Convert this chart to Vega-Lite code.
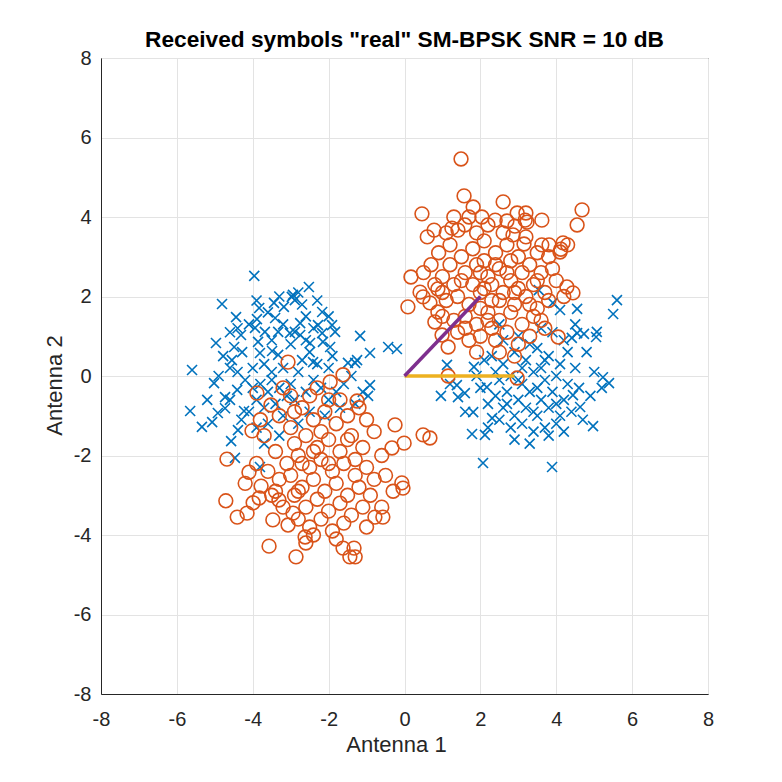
{
  "$schema": "https://vega.github.io/schema/vega-lite/v6.json",
  "autosize": {"type": "none"},
  "padding": {"left": 101, "top": 58, "right": 74, "bottom": 88},
  "width": 607,
  "height": 636,
  "background": "white",
  "view": {"stroke": "#262626", "strokeWidth": 1},
  "title": {
    "text": "Received symbols \"real\" SM-BPSK SNR = 10 dB",
    "font": "Liberation Sans",
    "fontSize": 22.7,
    "fontWeight": "bold",
    "color": "#000000",
    "anchor": "middle",
    "baseline": "alphabetic",
    "offset": -22
  },
  "config": {
    "font": "Liberation Sans",
    "axis": {
      "grid": true,
      "gridColor": "#e3e3e3",
      "gridWidth": 1,
      "domainColor": "#262626",
      "ticks": false,
      "labelFlush": false,
      "labelFont": "Liberation Sans",
      "labelFontSize": 20,
      "labelColor": "#262626",
      "labelExpr": "'' + datum.value",
      "titleFont": "Liberation Sans",
      "titleFontSize": 22,
      "titleFontWeight": "normal",
      "titleColor": "#262626"
    }
  },
  "datasets": {
    "blue": [
      {"x": -3.96, "y": 2.52}, {"x": -4.81, "y": 1.81}, {"x": -4.44, "y": 1.48}, {"x": -3.83, "y": 1.71},
      {"x": -3.44, "y": 1.84}, {"x": -3.18, "y": 1.74}, {"x": -2.97, "y": 1.99}, {"x": -3.89, "y": 1.43},
      {"x": -3.41, "y": 1.46}, {"x": -3.94, "y": 1.21}, {"x": -3.68, "y": 1.11}, {"x": -4.31, "y": 1.03},
      {"x": -3.33, "y": 1.11}, {"x": -3.02, "y": 1.08}, {"x": -4.97, "y": 0.83}, {"x": -4.49, "y": 0.73},
      {"x": -4.28, "y": 0.6}, {"x": -3.86, "y": 0.86}, {"x": -4.78, "y": 0.5}, {"x": -4.55, "y": 0.4},
      {"x": -3.81, "y": 0.58}, {"x": -3.49, "y": 0.63}, {"x": -3.33, "y": 0.53}, {"x": -2.52, "y": 2.24},
      {"x": -2.94, "y": 2.04}, {"x": -2.89, "y": 1.91}, {"x": -2.17, "y": 1.61}, {"x": -2.75, "y": 1.33},
      {"x": -2.89, "y": 1.11}, {"x": -2.75, "y": 1.03}, {"x": -2.28, "y": 1.28}, {"x": -1.91, "y": 1.28},
      {"x": -1.83, "y": 1.11}, {"x": -2.17, "y": 1.08}, {"x": -2.49, "y": 0.83}, {"x": -2.15, "y": 0.86},
      {"x": -1.96, "y": 0.73}, {"x": -1.17, "y": 1.01}, {"x": -0.91, "y": 0.58}, {"x": -0.43, "y": 0.73},
      {"x": -0.2, "y": 0.68}, {"x": -1.25, "y": 0.4}, {"x": -1.49, "y": 0.33}, {"x": -2.41, "y": 0.35},
      {"x": -5.6, "y": 0.15}, {"x": -5.02, "y": -0.18}, {"x": -5.65, "y": -0.88}, {"x": -5.34, "y": -1.28},
      {"x": -5.07, "y": -1.16}, {"x": -4.92, "y": -0.93}, {"x": -4.73, "y": -0.81}, {"x": -4.73, "y": -0.53},
      {"x": -4.23, "y": -0.88}, {"x": -4.39, "y": -1.36}, {"x": -4.41, "y": -0.35}, {"x": -4.47, "y": -2.06},
      {"x": -0.96, "y": -0.5}, {"x": -1.3, "y": 0.33}, {"x": -3.81, "y": -2.29}, {"x": -0.91, "y": -0.23},
      {"x": -4.57, "y": -1.64},
      {"x": -4.2, "y": -0.1}, {"x": -4.0, "y": -0.3}, {"x": -3.8, "y": -0.2}, {"x": -3.6, "y": -0.4},
      {"x": -3.9, "y": -0.6}, {"x": -3.5, "y": -0.1}, {"x": -3.3, "y": -0.3}, {"x": -3.1, "y": -0.5},
      {"x": -4.1, "y": -0.9}, {"x": -3.7, "y": -0.8}, {"x": -3.4, "y": -0.7}, {"x": -3.0, "y": -0.2},
      {"x": -2.9, "y": -0.6}, {"x": -3.2, "y": -1.0}, {"x": -3.6, "y": -1.2}, {"x": -4.3, "y": -1.1},
      {"x": -3.9, "y": -1.3}, {"x": -3.5, "y": 0.1}, {"x": -3.2, "y": 0.2}, {"x": -2.8, "y": 0.1},
      {"x": -4.0, "y": 0.2}, {"x": -3.7, "y": 0.3}, {"x": -4.4, "y": 0.1}, {"x": -2.6, "y": -0.4},
      {"x": -2.4, "y": -0.1}, {"x": -2.2, "y": -0.3}, {"x": -2.0, "y": -0.6}, {"x": -1.8, "y": -0.4},
      {"x": -1.6, "y": -0.2}, {"x": -1.4, "y": 0.0}, {"x": -2.7, "y": 0.4}, {"x": -2.5, "y": 0.6},
      {"x": -2.3, "y": 0.3}, {"x": -2.0, "y": 0.2}, {"x": -1.9, "y": 0.5}, {"x": -3.0, "y": 0.8},
      {"x": -3.5, "y": 0.9}, {"x": -3.2, "y": 1.3}, {"x": -2.6, "y": 1.5}, {"x": -2.4, "y": 1.2},
      {"x": -3.6, "y": 1.6}, {"x": -4.1, "y": 1.3}, {"x": -4.6, "y": 1.1}, {"x": -4.6, "y": 0.2},
      {"x": -4.9, "y": 0.0}, {"x": -5.2, "y": -0.6}, {"x": -4.6, "y": -0.6}, {"x": -1.7, "y": -0.8},
      {"x": -2.1, "y": -1.0}, {"x": -2.5, "y": -0.9}, {"x": -1.1, "y": -0.4}, {"x": -1.3, "y": -0.7},
      {"x": -2.8, "y": -1.2}, {"x": -3.3, "y": -1.5}, {"x": -3.7, "y": -1.7}, {"x": -2.3, "y": 1.9},
      {"x": -2.7, "y": 1.8}, {"x": -3.9, "y": 1.9}, {"x": -4.4, "y": 1.2}, {"x": -2.0, "y": 1.5},
      {"x": -3.3, "y": 2.0}, {"x": -2.8, "y": 2.1}, {"x": -2.6, "y": 0.9},
      {"x": 5.6, "y": 1.91}, {"x": 5.5, "y": 1.56}, {"x": 4.55, "y": 1.69}, {"x": 4.1, "y": 1.66},
      {"x": 3.91, "y": 1.84}, {"x": 5.07, "y": 1.11}, {"x": 5.05, "y": 0.98}, {"x": 4.73, "y": 1.06},
      {"x": 4.55, "y": 1.08}, {"x": 3.54, "y": 2.16}, {"x": 4.41, "y": 0.96}, {"x": 0.96, "y": -0.5},
      {"x": 1.12, "y": 0.28}, {"x": 1.83, "y": 0.23}, {"x": 1.78, "y": -1.46}, {"x": 2.12, "y": -1.48},
      {"x": 2.07, "y": -2.19}, {"x": 1.81, "y": -0.91}, {"x": 1.38, "y": -0.23}, {"x": 1.41, "y": -0.53},
      {"x": 1.59, "y": -0.43}, {"x": 2.17, "y": -0.28}, {"x": 2.31, "y": -1.06}, {"x": 5.23, "y": -0.03},
      {"x": 5.39, "y": -0.18}, {"x": 4.97, "y": -1.26}, {"x": 3.89, "y": -2.29}, {"x": 4.63, "y": -0.78},
      {"x": 4.44, "y": -0.48},
      {"x": 2.3, "y": 0.5}, {"x": 2.6, "y": 0.3}, {"x": 2.9, "y": 0.6}, {"x": 3.2, "y": 0.4},
      {"x": 3.5, "y": 0.7}, {"x": 3.8, "y": 0.5}, {"x": 4.1, "y": 0.3}, {"x": 2.5, "y": -0.1},
      {"x": 2.8, "y": 0.0}, {"x": 3.1, "y": -0.2}, {"x": 3.4, "y": 0.1}, {"x": 3.7, "y": -0.1},
      {"x": 4.0, "y": 0.0}, {"x": 4.3, "y": -0.2}, {"x": 2.4, "y": -0.5}, {"x": 2.7, "y": -0.4},
      {"x": 3.0, "y": -0.6}, {"x": 3.3, "y": -0.4}, {"x": 3.6, "y": -0.6}, {"x": 3.9, "y": -0.4},
      {"x": 4.2, "y": -0.6}, {"x": 2.6, "y": -0.8}, {"x": 2.9, "y": -1.0}, {"x": 3.2, "y": -0.8},
      {"x": 3.5, "y": -1.0}, {"x": 3.8, "y": -0.8}, {"x": 4.1, "y": -1.0}, {"x": 2.8, "y": -1.3},
      {"x": 3.1, "y": -1.2}, {"x": 3.4, "y": -1.4}, {"x": 3.7, "y": -1.3}, {"x": 4.0, "y": -1.2},
      {"x": 4.4, "y": -0.9}, {"x": 3.3, "y": -1.7}, {"x": 2.5, "y": -1.1}, {"x": 2.2, "y": -0.7},
      {"x": 2.0, "y": -0.3}, {"x": 1.9, "y": 0.0}, {"x": 2.1, "y": 0.4}, {"x": 4.5, "y": 0.2},
      {"x": 4.6, "y": -0.3}, {"x": 4.8, "y": 0.6}, {"x": 5.0, "y": 0.1}, {"x": 4.7, "y": -1.1},
      {"x": 3.0, "y": 1.0}, {"x": 3.6, "y": 1.2}, {"x": 4.2, "y": 0.9}, {"x": 3.9, "y": 1.1},
      {"x": 2.6, "y": 0.9}, {"x": 3.3, "y": 0.8}, {"x": 3.6, "y": 0.2}, {"x": 3.0, "y": -0.1},
      {"x": 4.0, "y": -0.7}, {"x": 2.7, "y": -0.7}, {"x": 3.5, "y": -0.3}, {"x": 4.3, "y": 0.6},
      {"x": 2.4, "y": 0.1}, {"x": 3.8, "y": -1.5}, {"x": 2.9, "y": -1.6}, {"x": 4.2, "y": -1.4},
      {"x": 3.1, "y": 0.2}, {"x": 3.7, "y": 0.4}, {"x": 2.2, "y": -1.3}, {"x": 5.2, "y": -0.3},
      {"x": 1.6, "y": -0.9}, {"x": 1.2, "y": -0.2}, {"x": 4.9, "y": -0.5}, {"x": 3.4, "y": -0.9},
      {"x": 2.5, "y": 1.3}, {"x": 4.5, "y": 1.3}
    ],
    "orange": [
      {"x": -3.07, "y": 0.35}, {"x": -3.89, "y": -0.43}, {"x": -3.52, "y": -0.73}, {"x": -4.02, "y": -1.38},
      {"x": -4.68, "y": -2.09}, {"x": -1.25, "y": -0.63}, {"x": -0.25, "y": -1.23}, {"x": -0.01, "y": -1.69},
      {"x": -0.33, "y": -1.81}, {"x": -1.62, "y": 0.03}, {"x": -1.96, "y": -0.15}, {"x": -4.71, "y": -3.14},
      {"x": -4.41, "y": -3.55}, {"x": -4.1, "y": -2.42}, {"x": -3.78, "y": -2.77}, {"x": -4.15, "y": -3.45},
      {"x": -3.99, "y": -3.19}, {"x": -3.83, "y": -3.07}, {"x": -3.57, "y": -4.28}, {"x": -2.86, "y": -4.55},
      {"x": -3.47, "y": -3.62}, {"x": -3.31, "y": -3.12}, {"x": -3.07, "y": -3.75}, {"x": -2.94, "y": -3.45},
      {"x": -0.07, "y": -2.69}, {"x": -0.04, "y": -2.82}, {"x": -0.78, "y": -3.55}, {"x": -0.57, "y": -3.55},
      {"x": -1.62, "y": -4.33}, {"x": -1.33, "y": -4.33}, {"x": -1.44, "y": -4.55}, {"x": -1.3, "y": -4.55},
      {"x": -2.62, "y": -4.05},
      {"x": -3.3, "y": -1.0}, {"x": -3.0, "y": -1.3}, {"x": -2.7, "y": -0.8}, {"x": -2.4, "y": -1.1},
      {"x": -2.1, "y": -0.9}, {"x": -1.8, "y": -1.2}, {"x": -1.5, "y": -1.0}, {"x": -2.9, "y": -1.7},
      {"x": -2.6, "y": -1.5}, {"x": -2.3, "y": -1.8}, {"x": -2.0, "y": -1.6}, {"x": -1.7, "y": -1.9},
      {"x": -1.4, "y": -1.5}, {"x": -1.1, "y": -1.8}, {"x": -3.4, "y": -1.9}, {"x": -3.1, "y": -2.2},
      {"x": -2.8, "y": -2.0}, {"x": -2.5, "y": -2.3}, {"x": -2.2, "y": -2.1}, {"x": -1.9, "y": -2.4},
      {"x": -1.6, "y": -2.2}, {"x": -1.3, "y": -2.5}, {"x": -1.0, "y": -2.3}, {"x": -3.6, "y": -2.4},
      {"x": -3.3, "y": -2.6}, {"x": -3.0, "y": -2.5}, {"x": -2.7, "y": -2.8}, {"x": -2.4, "y": -2.6},
      {"x": -2.1, "y": -2.9}, {"x": -1.8, "y": -2.7}, {"x": -1.5, "y": -3.0}, {"x": -1.2, "y": -2.8},
      {"x": -0.9, "y": -3.0}, {"x": -3.5, "y": -3.0}, {"x": -3.2, "y": -3.3}, {"x": -2.9, "y": -3.0},
      {"x": -2.6, "y": -3.3}, {"x": -2.3, "y": -3.1}, {"x": -2.0, "y": -3.4}, {"x": -1.7, "y": -3.2},
      {"x": -1.4, "y": -3.5}, {"x": -1.1, "y": -3.3}, {"x": -2.8, "y": -3.6}, {"x": -2.5, "y": -3.8},
      {"x": -2.2, "y": -3.6}, {"x": -1.9, "y": -3.9}, {"x": -1.6, "y": -3.7}, {"x": -2.4, "y": -4.0},
      {"x": -3.7, "y": -1.5}, {"x": -3.9, "y": -2.2}, {"x": -4.2, "y": -2.7}, {"x": -2.0, "y": -0.6},
      {"x": -2.5, "y": -0.5}, {"x": -1.2, "y": -0.8}, {"x": -0.8, "y": -1.4}, {"x": -0.6, "y": -2.0},
      {"x": -0.5, "y": -2.5}, {"x": -0.8, "y": -2.6}, {"x": -3.0, "y": -0.5}, {"x": -2.2, "y": -1.4},
      {"x": -2.7, "y": -2.2}, {"x": -1.0, "y": -1.1}, {"x": -3.8, "y": -1.1}, {"x": -1.5, "y": -1.6},
      {"x": -2.6, "y": -4.2}, {"x": -1.8, "y": -4.1}, {"x": -0.3, "y": -2.9}, {"x": -0.6, "y": -3.3},
      {"x": -1.0, "y": -3.8}, {"x": -2.9, "y": -0.9}, {"x": -3.2, "y": -0.3}, {"x": -2.3, "y": -0.3},
      {"x": -1.7, "y": -0.6}, {"x": -3.4, "y": -2.9}, {"x": -2.0, "y": -2.2}, {"x": -2.4, "y": -1.9},
      {"x": -1.3, "y": -2.1}, {"x": -2.8, "y": -2.9},
      {"x": 1.49, "y": 5.46}, {"x": 1.57, "y": 4.53}, {"x": 1.81, "y": 4.25}, {"x": 2.6, "y": 4.38},
      {"x": 0.46, "y": 4.08}, {"x": 0.78, "y": 3.67}, {"x": 1.25, "y": 3.72}, {"x": 1.41, "y": 3.67},
      {"x": 1.59, "y": 3.8}, {"x": 2.04, "y": 4.0}, {"x": 2.39, "y": 3.92}, {"x": 4.68, "y": 4.18},
      {"x": 4.55, "y": 3.8}, {"x": 2.97, "y": 4.1}, {"x": 3.18, "y": 3.92}, {"x": 3.23, "y": 3.87},
      {"x": 3.62, "y": 3.92}, {"x": 2.91, "y": 3.77}, {"x": 2.86, "y": 3.55}, {"x": 3.15, "y": 3.32},
      {"x": 3.62, "y": 3.3}, {"x": 3.81, "y": 3.3}, {"x": 4.18, "y": 3.35}, {"x": 4.12, "y": 3.19},
      {"x": 0.17, "y": 2.49}, {"x": 0.09, "y": 1.74}, {"x": 0.88, "y": 2.19}, {"x": 0.41, "y": 2.11},
      {"x": 0.49, "y": 1.99}, {"x": 0.67, "y": 1.84}, {"x": 0.88, "y": 1.61}, {"x": 0.8, "y": 1.36},
      {"x": 1.15, "y": 0.73}, {"x": 0.99, "y": 1.03}, {"x": 4.44, "y": 2.09}, {"x": 4.28, "y": 2.24},
      {"x": 4.1, "y": 3.12}, {"x": 4.05, "y": 0.98}, {"x": 1.15, "y": 0.0}, {"x": 0.49, "y": -1.48},
      {"x": 0.67, "y": -1.56}, {"x": 2.97, "y": -0.05},
      {"x": 1.2, "y": 2.8}, {"x": 1.5, "y": 3.0}, {"x": 1.8, "y": 3.2}, {"x": 2.1, "y": 3.4},
      {"x": 2.4, "y": 3.1}, {"x": 2.7, "y": 3.3}, {"x": 3.0, "y": 3.0}, {"x": 3.3, "y": 2.8},
      {"x": 3.6, "y": 2.6}, {"x": 1.0, "y": 2.5}, {"x": 1.3, "y": 2.3}, {"x": 1.6, "y": 2.6},
      {"x": 1.9, "y": 2.8}, {"x": 2.2, "y": 2.5}, {"x": 2.5, "y": 2.7}, {"x": 2.8, "y": 2.4},
      {"x": 3.1, "y": 2.6}, {"x": 3.4, "y": 2.3}, {"x": 3.7, "y": 2.1}, {"x": 1.1, "y": 1.9},
      {"x": 1.4, "y": 2.0}, {"x": 1.7, "y": 1.8}, {"x": 2.0, "y": 2.1}, {"x": 2.3, "y": 1.9},
      {"x": 2.6, "y": 2.1}, {"x": 2.9, "y": 1.8}, {"x": 3.2, "y": 2.0}, {"x": 3.5, "y": 1.7},
      {"x": 3.8, "y": 1.9}, {"x": 1.3, "y": 1.4}, {"x": 1.6, "y": 1.5}, {"x": 1.9, "y": 1.3},
      {"x": 2.2, "y": 1.6}, {"x": 2.5, "y": 1.4}, {"x": 2.8, "y": 1.6}, {"x": 3.1, "y": 1.3},
      {"x": 3.4, "y": 1.5}, {"x": 3.7, "y": 1.2}, {"x": 2.0, "y": 1.0}, {"x": 2.4, "y": 0.9},
      {"x": 2.7, "y": 1.1}, {"x": 3.0, "y": 0.8}, {"x": 3.3, "y": 1.0}, {"x": 1.7, "y": 0.9},
      {"x": 2.1, "y": 2.9}, {"x": 2.6, "y": 3.6}, {"x": 1.9, "y": 3.6}, {"x": 3.2, "y": 3.5},
      {"x": 2.3, "y": 2.3}, {"x": 2.0, "y": 1.7}, {"x": 2.5, "y": 1.9}, {"x": 2.7, "y": 2.6},
      {"x": 3.0, "y": 2.2}, {"x": 1.5, "y": 2.4}, {"x": 0.7, "y": 2.8}, {"x": 0.9, "y": 3.1},
      {"x": 1.2, "y": 3.3}, {"x": 3.9, "y": 2.7}, {"x": 4.0, "y": 2.4}, {"x": 3.5, "y": 3.1},
      {"x": 2.2, "y": 3.8}, {"x": 1.7, "y": 4.0}, {"x": 0.8, "y": 2.3}, {"x": 1.0, "y": 1.5},
      {"x": 1.4, "y": 1.1}, {"x": 1.9, "y": 0.6}, {"x": 2.9, "y": 0.5}, {"x": 3.6, "y": 1.4},
      {"x": 4.2, "y": 2.0}, {"x": 2.4, "y": 2.8}, {"x": 2.1, "y": 2.2}, {"x": 2.8, "y": 2.9},
      {"x": 1.6, "y": 1.2}, {"x": 3.3, "y": 1.8}, {"x": 2.3, "y": 1.2}, {"x": 4.3, "y": 3.3},
      {"x": 1.1, "y": 3.6}, {"x": 0.6, "y": 3.5}, {"x": 2.5, "y": 0.6}, {"x": 2.9, "y": 2.1},
      {"x": 3.8, "y": 3.0}, {"x": 1.3, "y": 4.0}, {"x": 2.7, "y": 3.9}, {"x": 3.2, "y": 4.1},
      {"x": 0.5, "y": 2.6}, {"x": 1.0, "y": 2.1}, {"x": 2.0, "y": 2.6}, {"x": 3.5, "y": 2.4},
      {"x": 2.2, "y": 1.4}, {"x": 1.8, "y": 2.3}
    ],
    "vectors": [
      {"x": 0, "y": 0, "v": "h1"}, {"x": 2.9, "y": 0, "v": "h1"},
      {"x": 0, "y": 0, "v": "h2"}, {"x": 2, "y": 2, "v": "h2"}
    ]
  },
  "encoding": {
    "x": {
      "field": "x", "type": "quantitative",
      "scale": {"domain": [-8, 8], "nice": false, "zero": false},
      "axis": {"values": [-8, -6, -4, -2, 0, 2, 4, 6, 8], "title": "Antenna 1", "labelPadding": 15, "titlePadding": 5, "titleX": 295}
    },
    "y": {
      "field": "y", "type": "quantitative",
      "scale": {"domain": [-8, 8], "nice": false, "zero": false},
      "axis": {"values": [-8, -6, -4, -2, 0, 2, 4, 6, 8], "title": "Antenna 2", "labelPadding": 10, "titlePadding": 7, "titleY": 327}
    }
  },
  "layer": [
    {
      "data": {"name": "blue"},
      "mark": {
        "type": "point",
        "shape": "M-1,-1L1,1M-1,1L1,-1",
        "filled": false,
        "size": 100,
        "stroke": "#0072BD",
        "strokeWidth": 1.6,
        "opacity": 1
      }
    },
    {
      "data": {"name": "orange"},
      "mark": {
        "type": "point",
        "shape": "circle",
        "filled": false,
        "size": 190,
        "stroke": "#D95319",
        "strokeWidth": 1.6,
        "opacity": 1
      }
    },
    {
      "data": {"name": "vectors"},
      "mark": {"type": "line", "strokeWidth": 3.5},
      "encoding": {
        "detail": {"field": "v"},
        "color": {
          "field": "v", "type": "nominal",
          "scale": {"domain": ["h1", "h2"], "range": ["#EDB120", "#7E2F8E"]},
          "legend": null
        }
      }
    }
  ]
}
